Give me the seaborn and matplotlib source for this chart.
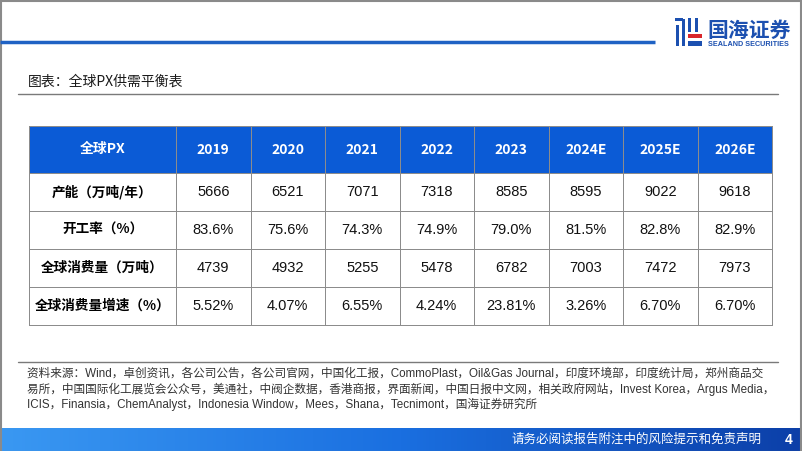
import numpy as np
import pandas as pd
import seaborn as sns
import matplotlib.pyplot as plt
from matplotlib.colors import ListedColormap, LinearSegmentedColormap
from matplotlib.patches import Rectangle

# --- data ---
corner = '全球PX'
years = ['2019', '2020', '2021', '2022', '2023', '2024E', '2025E', '2026E']
row_labels = ['产能（万吨/年）', '开工率（%）', '全球消费量（万吨）', '全球消费量增速（%）']
capacity = [5666, 6521, 7071, 7318, 8585, 8595, 9022, 9618]
utilization = [83.6, 75.6, 74.3, 74.9, 79.0, 81.5, 82.8, 82.9]
consumption = [4739, 4932, 5255, 5478, 6782, 7003, 7472, 7973]
growth = [5.52, 4.07, 6.55, 4.24, 23.81, 3.26, 6.70, 6.70]

title = '图表：全球PX供需平衡表'
source_lines = [
    '资料来源：Wind，卓创资讯，各公司公告，各公司官网，中国化工报，CommoPlast，Oil&Gas Journal，印度环境部，印度统计局，郑州商品交',
    '易所，中国国际化工展览会公众号，美通社，中阀企数据，香港商报，界面新闻，中国日报中文网，相关政府网站，Invest Korea，Argus Media，',
    'ICIS，Finansia，ChemAnalyst，Indonesia Window，Mees，Shana，Tecnimont，国海证券研究所',
]
footer = '请务必阅读报告附注中的风险提示和免责声明'
page_no = '4'

body = pd.DataFrame([capacity, utilization, consumption, growth], index=row_labels, columns=years)
body_txt = np.array([
    [f'{v}' for v in capacity],
    [f'{v:.1f}%' for v in utilization],
    [f'{v}' for v in consumption],
    [f'{v:.2f}%' for v in growth],
])

sns.set_theme(style='white')
CJK = ['Noto Sans CJK SC', 'DejaVu Sans']
LAT = ['Liberation Sans', 'Noto Sans CJK SC']
plt.rcParams['font.family'] = CJK

W, H = 802, 451
fig = plt.figure(figsize=(W / 100, H / 100), dpi=100)
fig.patch.set_facecolor('white')


def rect(x0, y0, x1, y1):
    return [x0 / W, 1 - y1 / H, (x1 - x0) / W, (y1 - y0) / H]


# background / decoration axes in pixel coords
bg = fig.add_axes([0, 0, 1, 1])
bg.set_xlim(0, W)
bg.set_ylim(H, 0)
bg.axis('off')

bg.add_patch(Rectangle((1, 1), W - 2.5, H, fill=False, ec='#8a8a8a', lw=1.5))
bg.plot([0, 655], [42, 42], color='#1f62c4', lw=2.5, solid_capstyle='butt')

# logo
blue_l, red_l = '#1c50b0', '#d9262c'
for (x0, y0, w, h, c) in [(675, 18, 8, 3, blue_l), (676, 25, 3, 21, blue_l), (682, 19, 3, 27, blue_l),
                          (688, 18, 3, 14, blue_l), (695, 18, 3, 14, blue_l),
                          (688, 34, 14, 4, red_l), (688, 41, 14, 5, blue_l)]:
    bg.add_patch(Rectangle((x0, y0), w, h, color=c, lw=0))
bg.text(707, 30, '国海证券', fontsize=15, fontweight='bold', color=blue_l, va='center', ha='left')
bg.text(708, 44, 'SEALAND SECURITIES', fontsize=5.2, fontweight='bold', color=blue_l,
        va='center', ha='left', family=LAT)

# title
bg.text(28, 82, title, fontsize=10, color='#1a1a1a', va='center', ha='left')
bg.plot([18, 778], [94, 94], color='#7a7a7a', lw=1)

# source
bg.plot([18, 778], [362, 362], color='#7a7a7a', lw=1)
for i, line in enumerate(source_lines):
    bg.text(27, 374 + i * 15, line, fontsize=8.4, color='#333333', va='center', ha='left',
            family=['Liberation Sans Narrow', 'Liberation Sans', 'Noto Sans CJK SC'])

# footer gradient band
grad = np.linspace(0, 1, 256).reshape(1, -1)
fcmap = LinearSegmentedColormap.from_list('ft', ['#3a98f2', '#1a6fe0', '#0c3fa8'])
bg.imshow(grad, extent=[0, W, H, 428], aspect='auto', cmap=fcmap, zorder=0)
bg.set_xlim(0, W)
bg.set_ylim(H, 0)
bg.text(762, 439.5, footer, fontsize=9, color='white', va='center', ha='right')
bg.text(789, 439.5, page_no, fontsize=10, fontweight='bold', color='white', va='center', ha='center',
        family=LAT)

# --- table via seaborn heatmaps ---
HEAD = '#0b5bd6'
GRID = '#8c8c8c'
x_l, x_m, x_r = 29, 176, 772
y_t, y_m, y_b = 126, 173, 325


def cell_map(ax, data, txt, face, kws):
    sns.heatmap(data, ax=ax, cmap=ListedColormap([face]), cbar=False, annot=txt, fmt='',
                annot_kws=kws, linewidths=0.7, linecolor=GRID, xticklabels=False, yticklabels=False)
    ax.collections[0].set_clip_on(False)
    for s in ax.spines.values():
        s.set_visible(False)


head_kws = dict(size=10, color='white', weight='bold', family=CJK)
lab_kws = dict(size=9.8, color='black', weight='bold', family=CJK)
num_kws = dict(size=10.5, color='#111111', family=LAT)

ax_c = fig.add_axes(rect(x_l, y_t, x_m, y_m))
cell_map(ax_c, np.zeros((1, 1)), np.array([[corner]]), HEAD, head_kws)

ax_h = fig.add_axes(rect(x_m, y_t, x_r, y_m))
cell_map(ax_h, np.zeros((1, len(years))), np.array([years]), HEAD, head_kws)

ax_l = fig.add_axes(rect(x_l, y_m, x_m, y_b))
cell_map(ax_l, np.zeros((len(row_labels), 1)), np.array(row_labels).reshape(-1, 1), 'white', lab_kws)

ax_b = fig.add_axes(rect(x_m, y_m, x_r, y_b))
cell_map(ax_b, body * 0, body_txt, 'white', num_kws)

fig.savefig('out.png', dpi=100)
